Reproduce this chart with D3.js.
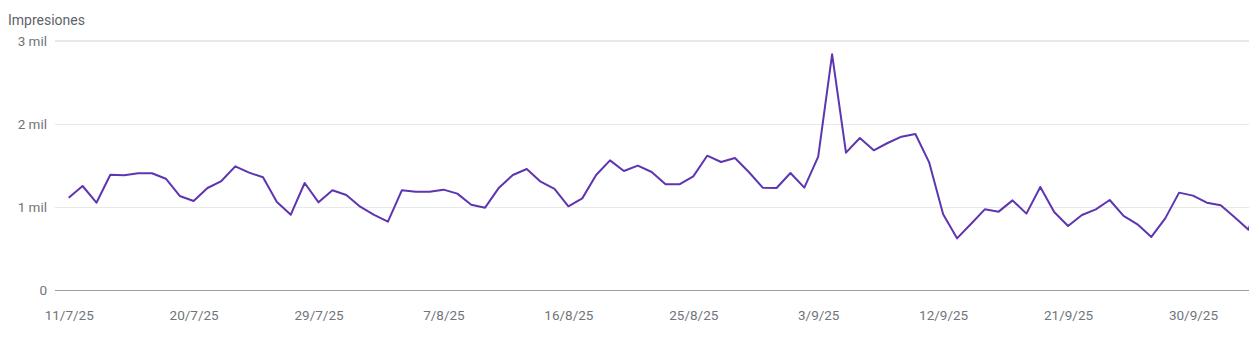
<!DOCTYPE html>
<html>
<head>
<meta charset="utf-8">
<script src="https://cdn.jsdelivr.net/npm/d3@7"></script>
<style>
  html, body { margin: 0; padding: 0; background: #fff; }
  svg { display: block; font-family: Roboto, "Noto Sans", sans-serif; }
</style>
</head>
<body>
<svg id="chart" width="1249" height="354"></svg>
<script>
const startDate = "2025-07-11";
const impressions = [
  1112, 1253, 1052, 1389, 1382, 1406, 1406, 1341, 1133, 1072,
  1229, 1313, 1490, 1414, 1358, 1060, 907, 1289, 1056, 1201,
  1145, 1004, 904, 823, 1201, 1185, 1185, 1209, 1161, 1028,
  992, 1233, 1386, 1458, 1305, 1217, 1008, 1104, 1386, 1562,
  1434, 1498, 1422, 1273, 1273, 1369, 1618, 1542, 1590, 1422,
  1233, 1229, 1410, 1233, 1606, 2839, 1655, 1831, 1683, 1771,
  1847, 1880, 1534, 912, 622, 795, 972, 944, 1080, 920,
  1241, 940, 771, 904, 972, 1084, 892, 791, 639, 863,
  1173, 1137, 1052, 1020, 876, 727, 1220
];
const yTicks = [0, 1000, 2000, 3000];
const yTickLabels = ["0", "1 mil", "2 mil", "3 mil"];
const xTickEvery = 9;
const yTitle = "Impresiones";

const parse = d3.timeParse("%Y-%m-%d");
const t0 = parse(startDate);
const data = impressions.map((v, i) => ({ date: d3.timeDay.offset(t0, i), value: v }));

const svg = d3.select("#chart");
const W = 1249;
const gridLeft = 55;

const x = d3.scaleTime()
  .domain([data[0].date, data[data.length - 1].date])
  .range([68.7, 68.7 + 13.88 * (data.length - 1)]);
const y = d3.scaleLinear().domain([0, 3000]).range([290, 41]);

// title
svg.append("text")
  .attr("x", 8).attr("y", 25)
  .attr("font-size", 14).attr("fill", "#5f6368")
  .text(yTitle);

// gridlines + y labels
const grid = svg.append("g");
yTicks.forEach((t, i) => {
  grid.append("line")
    .attr("x1", gridLeft).attr("x2", W)
    .attr("y1", y(t)).attr("y2", y(t))
    .attr("stroke", t === 0 ? "#9e9e9e" : "#e8e8e8")
    .attr("stroke-width", t === 3000 ? 2 : 1)
    .attr("shape-rendering", "crispEdges");
  svg.append("text")
    .attr("x", 47).attr("y", y(t))
    .attr("dy", "0.35em")
    .attr("text-anchor", "end")
    .attr("font-size", 13.5).attr("fill", "#70757a")
    .text(yTickLabels[i]);
});

// x axis labels
const xTickDates = data.filter((d, i) => i % xTickEvery === 0).map(d => d.date);
const fmt = d => `${d.getDate()}/${d.getMonth() + 1}/${String(d.getFullYear()).slice(2)}`;
const xAxis = d3.axisBottom(x).tickValues(xTickDates).tickFormat(fmt).tickSize(0).tickPadding(0);
const xg = svg.append("g").attr("transform", "translate(0,0)").call(xAxis);
xg.select(".domain").remove();
xg.selectAll("text")
  .attr("font-size", 13.5).attr("fill", "#70757a")
  .attr("font-family", "Roboto, sans-serif")
  .attr("dy", null).attr("y", 319.5);

// clip
svg.append("clipPath").attr("id", "clip")
  .append("rect").attr("x", 0).attr("y", 0).attr("width", W).attr("height", 354);

const line = d3.line().x(d => x(d.date)).y(d => y(d.value));
svg.append("path")
  .datum(data)
  .attr("clip-path", "url(#clip)")
  .attr("fill", "none")
  .attr("stroke", "#5e35b1")
  .attr("stroke-width", 2)
  .attr("stroke-linejoin", "round")
  .attr("d", line);
</script>
</body>
</html>
